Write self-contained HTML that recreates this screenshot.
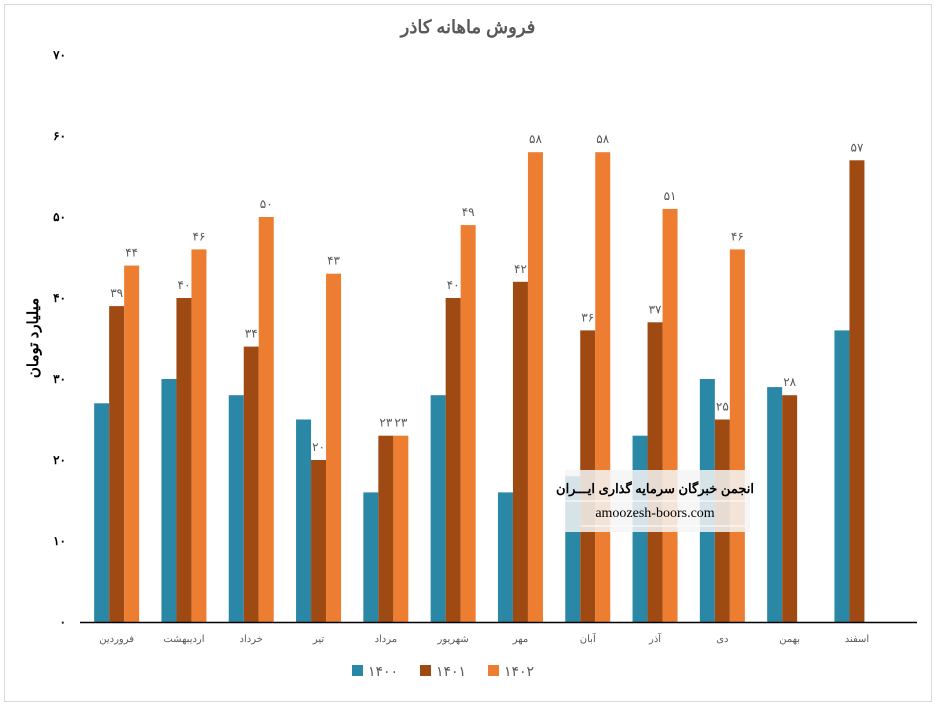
<!DOCTYPE html>
<html><head><meta charset="utf-8"><style>
body{margin:0;background:#fff;font-family:"Liberation Sans","Noto Sans CJK SC",sans-serif;}
</style></head><body>
<svg id="c" width="937" height="706" xmlns="http://www.w3.org/2000/svg"></svg>
<script>
const categories=["فروردین","اردیبهشت","خرداد","تیر","مرداد","شهریور","مهر","آبان","آذر","دی","بهمن","اسفند"];
const s1400=[27,30,28,25,16,28,16,18,23,30,29,36];
const s1401=[39,40,34,20,23,40,42,36,37,25,28,57];
const s1402=[44,46,50,43,23,49,58,58,51,46,null,null];
const yTicks=[0,10,20,30,40,50,60,70];
const seriesNames=["۱۴۰۰","۱۴۰۱","۱۴۰۲"];
const colors=["#2a87a6","#9e4a12","#ed7d31"];
const fa=n=>String(n).replace(/\d/g,d=>"۰۱۲۳۴۵۶۷۸۹"[d]);
const NS="http://www.w3.org/2000/svg";
const svg=document.getElementById('c');
function el(t,a,txt){const e=document.createElementNS(NS,t);for(const k in a)e.setAttribute(k,a[k]);if(txt!=null)e.textContent=txt;svg.appendChild(e);return e;}
const x0=83,cw=67.3,y0=622,yTop=55,ymax=70;
const Y=v=>y0-(v/ymax)*(y0-yTop);
const X=i=>x0+cw*i;
let e=el('rect',{x:4.5,y:4.5,width:927,height:697,fill:'#fff',stroke:'#d9d9d9'});


e=el('text',{x:468,y:33,'text-anchor':'middle','font-size':18,'font-weight':'bold',fill:'#595959'},'فروش ماهانه کاذر');


yTicks.forEach(t=>{
  const e=el('text',{x:66,y:Y(t)+4,'text-anchor':'end','font-size':12,'font-weight':'bold',fill:'#000'},fa(t));
  
  
});
e=el('text',{x:0,y:0,transform:'translate(38,338) rotate(-90)','text-anchor':'middle','font-size':15,'font-weight':'bold',fill:'#000'},'میلیارد تومان');


const all=[s1400,s1401,s1402];
categories.forEach((c,i)=>{
  const cx=X(i)+cw/2;
  all.forEach((s,k)=>{
    const v=s[i]; if(v==null)return;
    const bx=cx-22.5+k*15;
    const r=el('rect',{x:bx,y:Y(v),width:15,height:y0-Y(v),fill:colors[k]});
    
    
    if(k>0){
      const t=el('text',{x:bx+7.5,y:Y(v)-9,'text-anchor':'middle','font-size':12,fill:'#595959'},fa(v));
      
      
    }
  });
  const l=el('text',{x:cx,y:642,'text-anchor':'middle','font-size':10,fill:'#595959'},c);
  
  
});
e=el('line',{x1:80,y1:y0+0.5,x2:917,y2:y0+0.5,stroke:'#000','stroke-width':1.5});


e=el('rect',{x:565,y:470,width:185,height:62,fill:'#f4f4f4',opacity:0.85});


e=el('text',{x:655,y:493,'text-anchor':'middle','font-size':13,'font-weight':'bold',fill:'#000'},'انجمن خبرگان سرمایه گذاری ایـــران');


el('line',{x1:565,y1:501,x2:746,y2:501,stroke:'#fff'});
e=el('text',{x:655,y:517,'text-anchor':'middle','font-size':14,'font-family':'Liberation Serif,serif',fill:'#000'},'amoozesh-boors.com');


el('line',{x1:581,y1:526,x2:745,y2:526,stroke:'#fff'});
seriesNames.forEach((n,k)=>{
  const lx=352+k*68;
  const r=el('rect',{x:lx,y:665,width:11,height:11,fill:colors[k]});
  
  
  const t=el('text',{x:lx+16,y:676,'font-size':14,fill:'#595959'},n);
  
  
});
</script>
</body></html>
